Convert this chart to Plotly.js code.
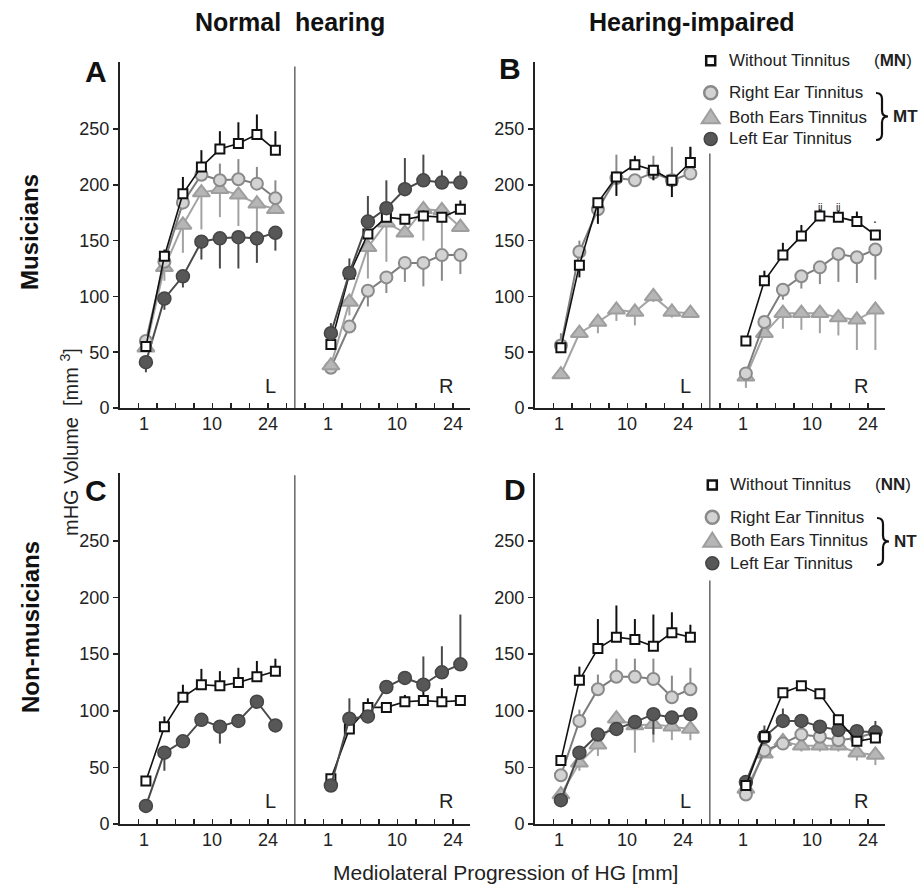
<!DOCTYPE html>
<html><head><meta charset="utf-8">
<script src="https://cdn.plot.ly/plotly-3.0.1.min.js"></script>
<style>html,body{margin:0;padding:0;background:#fff}</style>
</head><body><div id="chart" style="width:920px;height:889px"></div>
<script>
// ---------------- DATA ----------------
const tickLabels = ['1', '10', '24'];
const seriesNames = ['Without Tinnitus', 'Right Ear Tinnitus', 'Both Ears Tinnitus', 'Left Ear Tinnitus'];

// Panel A: Musicians, normal hearing
const A_L_without = [55, 136, 192, 216, 232, 237, 245, 231];
const A_L_without_up = [0, 6, 15, 15, 16, 19, 18, 17];
const A_L_right = [60, 131, 184, 209, 204, 205, 201, 188];
const A_L_right_up = [0, 5, 0, 10, 15, 18, 15, 16];
const A_L_both = [54, 126, 164, 193, 196, 191, 183, 178];
const A_L_both_down = [0, 12, 25, 33, 25, 28, 27, 0];
const A_L_left = [41, 98, 118, 149, 152, 153, 152, 157];
const A_L_left_down = [9, 10, 10, 16, 27, 28, 22, 16];

const A_R_without = [57, 120, 156, 171, 169, 172, 171, 178];
const A_R_without_up = [0, 4, 4, 3, 4, 5, 4, 8];
const A_R_right = [36, 73, 105, 117, 130, 130, 137, 137];
const A_R_right_down = [0, 0, 14, 14, 17, 21, 23, 17];
const A_R_both = [38, 95, 144, 166, 157, 178, 177, 162];
const A_R_both_down = [0, 12, 28, 35, 0, 28, 34, 0];
const A_R_left = [67, 121, 167, 179, 196, 204, 202, 202];
const A_R_left_up = [9, 13, 23, 25, 28, 23, 11, 10];

// Panel B: Musicians, hearing-impaired
const B_L_without = [54, 128, 184, 207, 218, 213, 204, 220];
const B_L_without_up = [0, 0, 0, 0, 8, 0, 0, 14];
const B_L_without_down = [0, 11, 19, 17, 0, 9, 15, 0];
const B_L_right = [56, 140, 178, 206, 204, 211, 204, 210];
const B_L_right_up = [11, 10, 5, 21, 5, 15, 30, 24];
const B_L_both = [30, 67, 77, 88, 86, 100, 86, 85];
const B_L_both_down = [0, 0, 10, 10, 12, 5, 5, 0];

const B_R_without = [60, 114, 137, 154, 172, 171, 167, 155];
const B_R_without_up = [0, 9, 11, 10, 6, 6, 9, 0];
const B_R_right = [31, 77, 106, 118, 126, 138, 135, 142];
const B_R_right_down = [0, 0, 9, 11, 15, 25, 23, 27];
const B_R_both = [28, 67, 85, 85, 85, 81, 79, 88];
const B_R_both_down = [10, 0, 14, 15, 18, 16, 27, 36];

// Panel C: Non-musicians, normal hearing
const C_L_without = [38, 86, 112, 123, 122, 125, 130, 135];
const C_L_without_up = [0, 9, 11, 14, 13, 13, 14, 11];
const C_L_left = [16, 63, 73, 92, 86, 91, 108, 87];
const C_L_left_down = [0, 16, 0, 0, 15, 0, 0, 0];

const C_R_without = [40, 84, 103, 103, 108, 109, 108, 109];
const C_R_without_up = [0, 0, 8, 0, 6, 10, 12, 0];
const C_R_left = [34, 93, 95, 121, 129, 123, 134, 141];
const C_R_left_up = [0, 18, 5, 0, 0, 25, 23, 44];

// Panel D: Non-musicians, hearing-impaired
const D_L_without = [56, 127, 155, 165, 163, 157, 169, 165];
const D_L_without_up = [0, 12, 26, 28, 18, 28, 18, 11];
const D_L_right = [43, 91, 119, 130, 130, 128, 112, 119];
const D_L_right_up = [0, 10, 13, 16, 16, 18, 19, 19];
const D_L_both = [26, 54, 70, 93, 87, 88, 86, 84];
const D_L_both_down = [0, 7, 10, 0, 24, 16, 12, 10];
const D_L_left = [21, 63, 79, 84, 90, 97, 94, 97];
const D_L_left_down = [0, 0, 0, 5, 0, 18, 0, 0];

const D_R_without = [34, 77, 116, 122, 115, 92, 73, 76];
const D_R_without_up = [0, 0, 0, 4, 0, 0, 0, 0];
const D_R_right = [26, 65, 71, 79, 77, 74, 76, 81];
const D_R_both = [31, 62, 73, 69, 69, 69, 63, 61];
const D_R_both_down = [0, 0, 5, 5, 5, 5, 7, 9];
const D_R_left = [37, 77, 91, 91, 86, 83, 82, 81];
const D_R_left_up = [0, 10, 11, 4, 0, 0, 0, 10];

// ---------------- STYLE / LAYOUT ----------------
const FONT = 'Liberation Sans, Arial, Helvetica, sans-serif';
const W = 920, H = 889;
const P = x => x / W, Q = y => 1 - y / H;

const styles = {
  without: {line: '#111', marker: {symbol: 'square', size: 9, color: '#ffffff', line: {color: '#111', width: 2}}, err: '#111', lw: 1.6},
  right:   {line: '#7d7d7d', marker: {symbol: 'circle', size: 12, color: '#d3d3d3', line: {color: '#8a8a8a', width: 2}}, err: '#8a8a8a', lw: 2},
  both:    {line: '#a4a4a4', marker: {symbol: 'triangle-up', size: 15, color: '#b6b6b6', line: {color: '#9e9e9e', width: 2}}, err: '#a2a2a2', lw: 2},
  left:    {line: '#4a4a4a', marker: {symbol: 'circle', size: 13, color: '#575757', line: {color: '#454545', width: 1.5}}, err: '#4a4a4a', lw: 2}
};
const nameOf = {without: seriesNames[0], right: seriesNames[1], both: seriesNames[2], left: seriesNames[3]};

const traces = [];
function addSeries(axNum, side, kind, vals, up, down) {
  const st = styles[kind];
  const off = side === 'L' ? 0 : 10;
  const xs = vals.map((v, i) => i + off);
  const sfx = axNum === 1 ? '' : String(axNum);
  traces.push({
    type: 'scatter', mode: 'lines+markers', x: xs, y: vals,
    xaxis: 'x' + sfx, yaxis: 'y' + sfx, name: nameOf[kind], showlegend: false,
    line: {color: st.line, width: st.lw}, marker: st.marker, cliponaxis: false,
    error_y: {type: 'data', symmetric: false, array: up || vals.map(() => 0), arrayminus: down || vals.map(() => 0),
              color: st.err, thickness: 2, width: 0, visible: true},
    hoverinfo: 'x+y'
  });
}
// Panel A
addSeries(1, 'L', 'both', A_L_both, null, A_L_both_down);
addSeries(1, 'L', 'left', A_L_left, null, A_L_left_down);
addSeries(1, 'L', 'right', A_L_right, A_L_right_up, null);
addSeries(1, 'L', 'without', A_L_without, A_L_without_up, null);
addSeries(1, 'R', 'right', A_R_right, null, A_R_right_down);
addSeries(1, 'R', 'both', A_R_both, null, A_R_both_down);
addSeries(1, 'R', 'without', A_R_without, A_R_without_up, null);
addSeries(1, 'R', 'left', A_R_left, A_R_left_up, null);
// Panel B
addSeries(2, 'L', 'both', B_L_both, null, B_L_both_down);
addSeries(2, 'L', 'right', B_L_right, B_L_right_up, null);
addSeries(2, 'L', 'without', B_L_without, B_L_without_up, B_L_without_down);
addSeries(2, 'R', 'both', B_R_both, null, B_R_both_down);
addSeries(2, 'R', 'right', B_R_right, null, B_R_right_down);
addSeries(2, 'R', 'without', B_R_without, B_R_without_up, null);
// Panel C
addSeries(3, 'L', 'left', C_L_left, null, C_L_left_down);
addSeries(3, 'L', 'without', C_L_without, C_L_without_up, null);
addSeries(3, 'R', 'without', C_R_without, C_R_without_up, null);
addSeries(3, 'R', 'left', C_R_left, C_R_left_up, null);
// Panel D
addSeries(4, 'L', 'both', D_L_both, null, D_L_both_down);
addSeries(4, 'L', 'left', D_L_left, null, D_L_left_down);
addSeries(4, 'L', 'right', D_L_right, D_L_right_up, null);
addSeries(4, 'L', 'without', D_L_without, D_L_without_up, null);
addSeries(4, 'R', 'both', D_R_both, null, D_R_both_down);
addSeries(4, 'R', 'right', D_R_right, null, null);
addSeries(4, 'R', 'left', D_R_left, D_R_left_up, null);
addSeries(4, 'R', 'without', D_R_without, D_R_without_up, null);

const tickMarks = [];
for (let j = 0; j < 18; j++) tickMarks.push(-0.4 + j);
const labelPos = [-0.1, 3.6, 6.6, 9.85, 13.6, 16.6];
const XR = [-1.4, 17.52];
function xAx(x0px, anchor) {
  return {domain: [P(x0px), P(x0px + 350)], anchor: anchor, range: XR,
    showline: true, linecolor: '#222', linewidth: 2, zeroline: false, showgrid: false,
    tickmode: 'array', tickvals: tickMarks, ticks: 'inside', ticklen: 5, tickwidth: 1.5, tickcolor: '#222',
    showticklabels: false, fixedrange: true};
}
function yAx(y0px, y1px, anchor) {
  return {domain: [Q(y1px), Q(y0px)], anchor: anchor, range: [0, 310],
    showline: true, linecolor: '#222', linewidth: 2, zeroline: false, showgrid: false,
    tickmode: 'array', tickvals: [0, 50, 100, 150, 200, 250], ticks: 'outside', ticklen: 5, tickwidth: 1.5, tickcolor: '#222',
    tickfont: {family: FONT, size: 18, color: '#222'}, fixedrange: true};
}

const layout = {
  width: W, height: H, margin: {l: 0, r: 0, t: 0, b: 0},
  paper_bgcolor: '#fff', plot_bgcolor: 'rgba(0,0,0,0)', showlegend: false,
  font: {family: FONT, color: '#222'},
  xaxis: xAx(120, 'y'), yaxis: yAx(62, 408, 'x'),
  xaxis2: xAx(535, 'y2'), yaxis2: yAx(62, 408, 'x2'),
  xaxis3: xAx(120, 'y3'), yaxis3: yAx(473, 824, 'x3'),
  xaxis4: xAx(535, 'y4'), yaxis4: yAx(473, 824, 'x4'),
  shapes: [], annotations: []
};

// separators, L / R labels, x tick labels
[['x', 'y', 306, 408], ['x2', 'y2', 228, 408], ['x3', 'y3', 308, 824], ['x4', 'y4', 215, 824]].forEach(([xr, yr, top, basePx]) => {
  layout.shapes.push({type: 'line', xref: xr, yref: yr, x0: 8.05, x1: 8.05, y0: 0, y1: top, line: {color: '#666', width: 1.5}});
  layout.annotations.push({xref: xr, yref: yr, x: 6.75, y: 20, text: 'L', showarrow: false, font: {family: FONT, size: 20, color: '#222'}});
  layout.annotations.push({xref: xr, yref: yr, x: 16.2, y: 20, text: 'R', showarrow: false, font: {family: FONT, size: 20, color: '#222'}});
  const labs = tickLabels.concat(tickLabels);
  labelPos.forEach((xv, k) => {
    layout.annotations.push({xref: xr, yref: 'paper', x: xv, y: Q(basePx + 15.5), text: labs[k], showarrow: false,
      xanchor: 'center', yanchor: 'middle', font: {family: FONT, size: 18, color: '#222'}});
  });
});

function txt(x, y, text, opts) {
  layout.annotations.push(Object.assign({xref: 'paper', yref: 'paper', x: P(x), y: Q(y), text: text, showarrow: false,
    xanchor: 'center', yanchor: 'middle', font: {family: FONT, size: 17, color: '#222'}}, opts || {}));
}
// headers, row labels, panel letters
txt(290, 22, '<b>Normal  hearing</b>', {font: {family: FONT, size: 25, color: '#111'}});
txt(692, 22, '<b>Hearing-impaired</b>', {font: {family: FONT, size: 25, color: '#111'}});
txt(30, 232, '<b>Musicians</b>', {textangle: -90, font: {family: FONT, size: 24, color: '#111'}});
txt(30, 627, '<b>Non-musicians</b>', {textangle: -90, font: {family: FONT, size: 24, color: '#111'}});
txt(96, 71, '<b>A</b>', {font: {family: FONT, size: 30, color: '#111'}});
txt(510, 68, '<b>B</b>', {font: {family: FONT, size: 30, color: '#111'}});
txt(96, 490, '<b>C</b>', {font: {family: FONT, size: 30, color: '#111'}});
txt(515, 489, '<b>D</b>', {font: {family: FONT, size: 30, color: '#111'}});
// axis titles
txt(69, 442, 'mHG Volume  [mm <sup>3</sup>]', {textangle: -90, font: {family: FONT, size: 20, color: '#222'}});
txt(505, 872, 'Mediolateral Progression of HG [mm]', {font: {family: FONT, size: 21, color: '#222'}});
// significance marks in panel B right
layout.annotations.push({xref: 'x2', yref: 'y2', x: 14, y: 180, text: 'ii', showarrow: false, font: {family: FONT, size: 10, color: '#111'}});
layout.annotations.push({xref: 'x2', yref: 'y2', x: 15, y: 180, text: 'ii', showarrow: false, font: {family: FONT, size: 10, color: '#111'}});
layout.annotations.push({xref: 'x2', yref: 'y2', x: 17, y: 170, text: '.', showarrow: false, font: {family: FONT, size: 14, color: '#111'}});

// legends
function legendBlock(cx, textX, yRows, tag, groupTag, braceX, braceTop, braceBot) {
  const [y0, y1, y2, y3] = yRows;
  layout.shapes.push({type: 'rect', xref: 'paper', yref: 'paper', x0: P(cx - 4.5), x1: P(cx + 4.5), y0: Q(y0 + 4.5), y1: Q(y0 - 4.5),
    line: {color: '#111', width: 2.5}, fillcolor: '#fff'});
  layout.shapes.push({type: 'circle', xref: 'paper', yref: 'paper', x0: P(cx - 6.5), x1: P(cx + 6.5), y0: Q(y1 + 6.5), y1: Q(y1 - 6.5),
    line: {color: '#8a8a8a', width: 2.5}, fillcolor: '#d3d3d3'});
  const tp = `M ${P(cx - 9)} ${Q(y2 + 6)} L ${P(cx + 9)} ${Q(y2 + 6)} L ${P(cx)} ${Q(y2 - 8)} Z`;
  layout.shapes.push({type: 'path', xref: 'paper', yref: 'paper', path: tp, line: {color: '#9e9e9e', width: 2}, fillcolor: '#b6b6b6'});
  layout.shapes.push({type: 'circle', xref: 'paper', yref: 'paper', x0: P(cx - 6.5), x1: P(cx + 6.5), y0: Q(y3 + 6.5), y1: Q(y3 - 6.5),
    line: {color: '#454545', width: 1.5}, fillcolor: '#575757'});
  txt(textX, y0, seriesNames[0], {xanchor: 'left'});
  txt(textX + 145, y0, '(<b>' + tag + '</b>)', {xanchor: 'left'});
  txt(textX, y1, seriesNames[1], {xanchor: 'left'});
  txt(textX, y2, seriesNames[2], {xanchor: 'left'});
  txt(textX, y3, seriesNames[3], {xanchor: 'left'});
  const bx = braceX, mid = (braceTop + braceBot) / 2;
  const pts = [['M', bx, braceTop], ['Q', bx + 6, braceTop, bx + 6, braceTop + 6], ['L', bx + 6, mid - 6],
               ['Q', bx + 6, mid, bx + 12, mid], ['Q', bx + 6, mid, bx + 6, mid + 6], ['L', bx + 6, braceBot - 6],
               ['Q', bx + 6, braceBot, bx, braceBot]];
  const path = pts.map(p => p[0] + ' ' + p.slice(1).map((v, i) => i % 2 === 0 ? P(v) : Q(v)).join(' ')).join(' ');
  layout.shapes.push({type: 'path', xref: 'paper', yref: 'paper', path: path, line: {color: '#111', width: 2.2}});
  txt(bx + 15, mid, '<b>' + groupTag + '</b>', {xanchor: 'left'});
}
legendBlock(710.7, 726.7, [60.7, 92.7, 117.3, 139], 'MN', 'MT', 876, 93, 140);
legendBlock(712.3, 728.3, [485, 517.3, 540.7, 563.3], 'NN', 'NT', 877, 518, 565);

Plotly.newPlot('chart', traces, layout, {displayModeBar: false, staticPlot: true});
</script>
</body></html>
